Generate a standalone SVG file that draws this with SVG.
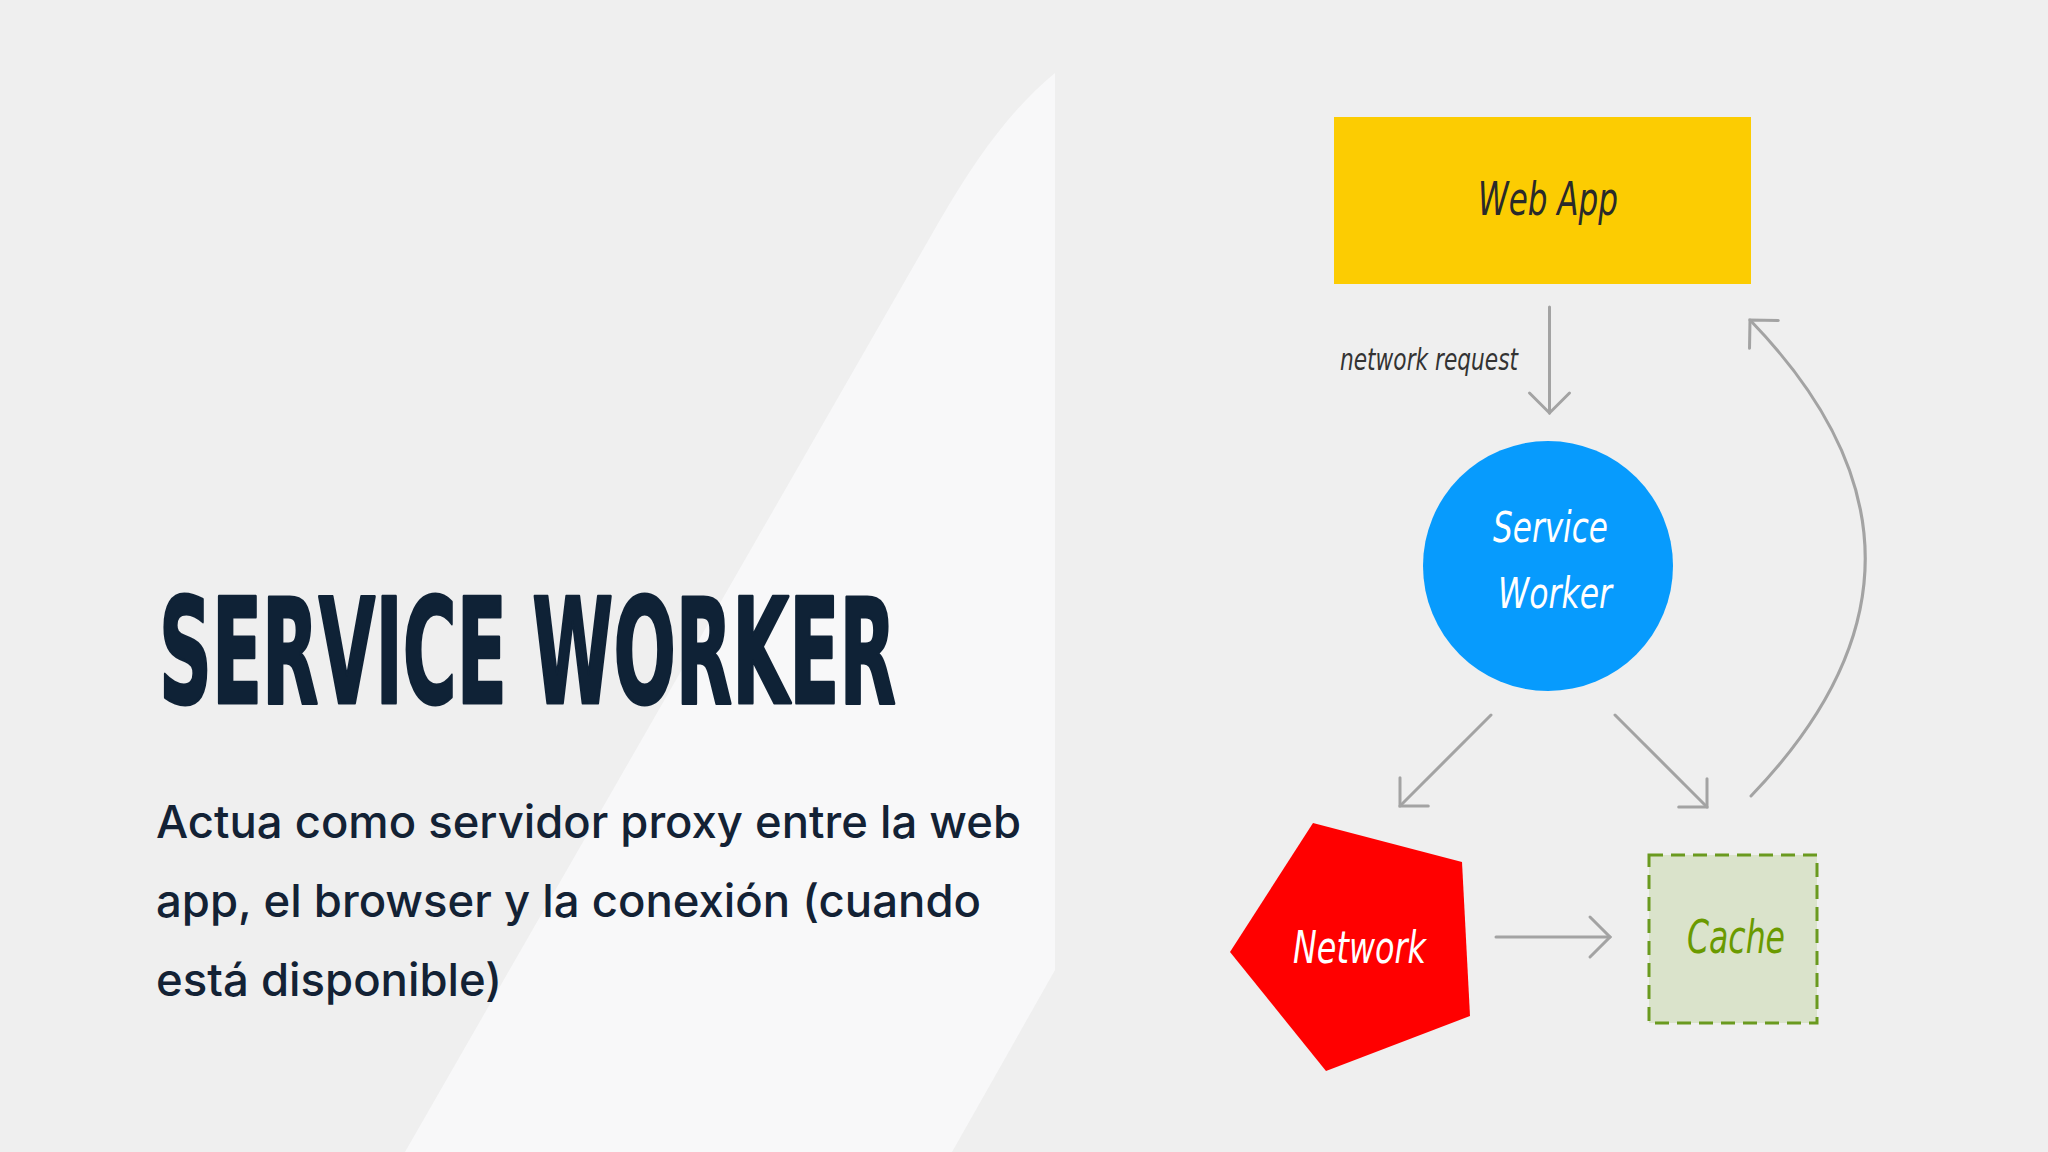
<svg xmlns="http://www.w3.org/2000/svg" width="2048" height="1152" viewBox="0 0 2048 1152">
  <style>
    .hand { font-family: "Liberation Sans Narrow", "DejaVu Sans Condensed", "Liberation Sans", sans-serif; font-style: italic; }
    .conn { fill: none; stroke: #a3a3a3; stroke-width: 3; stroke-linecap: round; }
    .body { font-family: Inter, "Liberation Sans", sans-serif; font-weight: 500; font-size: 45px; fill: #132235; }
  </style>
  <defs>
    <marker id="chev" markerUnits="userSpaceOnUse" markerWidth="60" markerHeight="60" viewBox="-30 -30 60 60" refX="0" refY="0" orient="auto" overflow="visible">
      <path d="M-20 -20 L0 0 L-20 20" fill="none" stroke="#a3a3a3" stroke-width="3" stroke-linecap="round" stroke-linejoin="miter"/>
    </marker>
  </defs>

  <rect x="0" y="0" width="2048" height="1152" fill="#efefef"/>
  <path d="M405 1152 L940 220 C975 160 1010 110 1055 73 L1055 970 L952 1152 Z" fill="#f8f8f9"/>

  <g id="title">
    <text x="159" y="703" font-family="'Liberation Sans Narrow', 'DejaVu Sans Condensed', 'Liberation Sans', sans-serif" font-weight="bold" font-size="146" fill="#0f2236" stroke="#0f2236" stroke-width="3" stroke-linejoin="round" textLength="737" lengthAdjust="spacingAndGlyphs">SERVICE WORKER</text>
  </g>
  <g id="description">
    <text class="body" x="156" y="838" textLength="865" lengthAdjust="spacingAndGlyphs">Actua como servidor proxy entre la web</text>
    <text class="body" x="156" y="917" textLength="825" lengthAdjust="spacingAndGlyphs">app, el browser y la conexión (cuando</text>
    <text class="body" x="156" y="996" textLength="346" lengthAdjust="spacingAndGlyphs">está disponible)</text>
  </g>

  <g id="connectors">
    <line class="conn" x1="1549.5" y1="307" x2="1549.5" y2="413" marker-end="url(#chev)"/>
    <line class="conn" x1="1491" y1="715" x2="1400" y2="806" marker-end="url(#chev)"/>
    <line class="conn" x1="1615" y1="715" x2="1707" y2="807" marker-end="url(#chev)"/>
    <line class="conn" x1="1496" y1="937" x2="1610" y2="937" marker-end="url(#chev)"/>
    <path class="conn" d="M1751 796 Q1980 558 1750 320" marker-end="url(#chev)"/>
    <text class="hand" x="1340" y="370" font-size="30" fill="#333333" textLength="178" lengthAdjust="spacingAndGlyphs">network request</text>
  </g>

  <g id="webapp">
    <rect x="1334" y="117" width="417" height="167" fill="#fccc02"/>
    <text class="hand" x="1478" y="215" font-size="46" fill="#2a2a2a" textLength="140" lengthAdjust="spacingAndGlyphs">Web App</text>
  </g>

  <g id="serviceworker">
    <circle cx="1548" cy="566" r="125" fill="#079bfd"/>
    <text class="hand" x="1493" y="542" font-size="42" fill="#ffffff" textLength="115" lengthAdjust="spacingAndGlyphs">Service</text>
    <text class="hand" x="1498" y="608" font-size="42" fill="#ffffff" textLength="114" lengthAdjust="spacingAndGlyphs">Worker</text>
  </g>

  <g id="network">
    <polygon points="1313,823 1462,862 1470,1016 1326,1071 1230,952" fill="#ff0000"/>
    <text class="hand" x="1293" y="963" font-size="44" fill="#ffffff" textLength="133" lengthAdjust="spacingAndGlyphs">Network</text>
  </g>

  <g id="cache">
    <rect x="1649" y="855" width="168" height="168" fill="#dae3cb" stroke="#6a9a1f" stroke-width="3" stroke-dasharray="14 8"/>
    <text class="hand" x="1687" y="953" font-size="46" fill="#6a9a00" textLength="98" lengthAdjust="spacingAndGlyphs">Cache</text>
  </g>
</svg>
